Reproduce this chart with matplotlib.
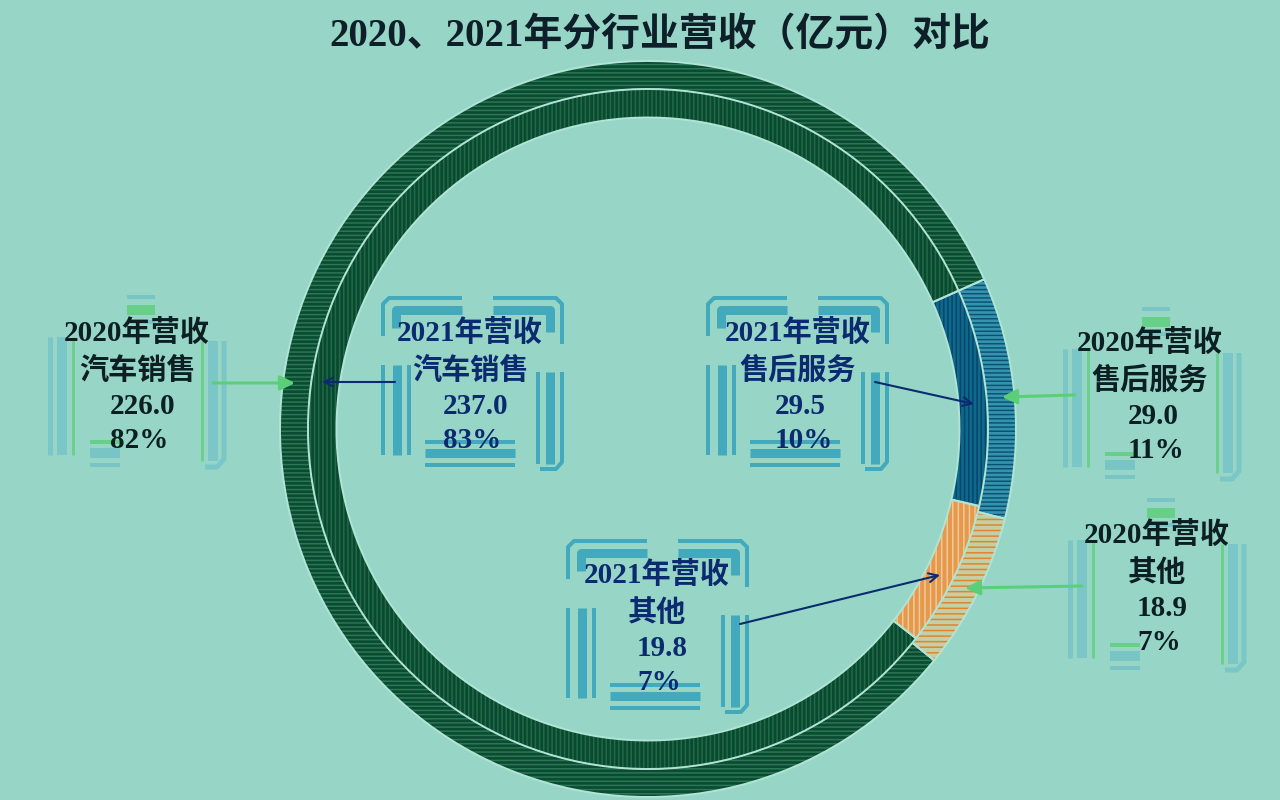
import matplotlib
matplotlib.use('Agg')
import matplotlib.pyplot as plt

plt.rcParams['hatch.linewidth'] = 1.1

# ---------------- data ----------------
categories = ['汽车销售', '售后服务', '其他']
revenue_2020 = [226.0, 29.0, 18.9]
revenue_2021 = [237.0, 29.5, 19.8]
pct_2020 = [82, 11, 7]
pct_2021 = [83, 10, 7]
title = '2020、2021年分行业营收（亿元）对比'

# ---------------- layout ----------------
W, H = 1280, 800
BG = '#97d6c6'
FONT = ['Liberation Serif', 'Noto Sans CJK SC', 'DejaVu Sans']

fig = plt.figure(figsize=(12.8, 8), dpi=100, facecolor=BG)
ax = fig.add_axes([0, 0, 1, 1])
ax.set_facecolor(BG)


def Y(y):
    return H - y


CX, CY = 648, 429
R_OUT, R_MID = 368, 340
RING_W = 28.5
START = 24  # angle (deg) where 售后服务 begins, going clockwise


def ring(values, radius, faces, hatches, hatch_colors):
    total = sum(values)
    start = START + 360.0 * values[0] / total
    common = dict(center=(CX, Y(CY)), radius=radius, startangle=start,
                  counterclock=False)
    ax.pie(values, colors=faces, wedgeprops=dict(width=RING_W, linewidth=0), **common)
    hw, _ = ax.pie(values, colors=['none'] * len(values),
                   wedgeprops=dict(width=RING_W, linewidth=0), **common)
    for w, h, c in zip(hw, hatches, hatch_colors):
        w.set_facecolor('none')
        w.set_edgecolor(c)
        w.set_hatch(h)
        w.set_linewidth(0)
    ax.pie(values, colors=['none'] * len(values),
           wedgeprops=dict(width=RING_W, edgecolor='#b2e4d6', linewidth=1.4), **common)


# outer ring = 2020, inner ring = 2021
ring(revenue_2020, R_OUT,
     ['#0b4b32', '#3494ae', '#c4cfa4'], ['----', '----', '---'],
     ['#2a7655', '#0c5274', '#e0852f'])
ring(revenue_2021, R_MID,
     ['#0a4930', '#0e6a8c', '#e4994c'], ['||||', '||||', '|||'],
     ['#1f6a48', '#07456a', '#f2c898'])


# ---------------- decorative frames ----------------
def seg(points, w, color, alpha=1.0):
    xs = [p[0] for p in points]
    ys = [Y(p[1]) for p in points]
    ax.plot(xs, ys, color=color, lw=w * 0.72, alpha=alpha, solid_capstyle='butt',
            solid_joinstyle='round', zorder=2)


def frame2021(L, T):
    c = '#43aabd'
    seg([(L + 3, T + 40), (L + 3, T + 8), (L + 9, T + 2), (L + 82, T + 2)], 4, c)
    seg([(L + 16, T + 32), (L + 16, T + 14), (L + 82, T + 14)], 9, c)
    seg([(L + 113, T + 2), (L + 176, T + 2), (L + 182, T + 8), (L + 182, T + 48)], 4, c)
    seg([(L + 113, T + 14), (L + 170, T + 14), (L + 170, T + 36)], 9, c)
    for x, w in [(3, 4), (17, 9), (29, 4)]:
        seg([(L + x, T + 69), (L + x, T + 159)], w, c)
    for x, w in [(158, 4), (170, 9)]:
        seg([(L + x, T + 76), (L + x, T + 168)], w, c)
    seg([(L + 182, T + 76), (L + 182, T + 166), (L + 176, T + 173), (L + 160, T + 173)], 4, c)
    for y, w in [(146, 4), (157, 9), (169, 4)]:
        seg([(L + 45, T + y), (L + 135, T + y)], w, c)


def frame2020(L, T):
    t = '#76c4c6'
    g = '#62cf82'
    for y, w, c in [(4, 4, t), (17, 10, g), (29, 4, t)]:
        seg([(L + 82, T + y), (L + 110, T + y)], w, c, 0.9)
    for x, w, c in [(5, 5, t), (17, 10, t), (28, 3, g)]:
        seg([(L + x, T + 44), (L + x, T + 162)], w, c, 0.85)
    for x, w, c in [(157, 3, g), (168, 10, t)]:
        seg([(L + x, T + 48), (L + x, T + 168)], w, c, 0.85)
    seg([(L + 179, T + 48), (L + 179, T + 166), (L + 172, T + 174), (L + 160, T + 174)], 5, t, 0.85)
    for y, w, c in [(149, 4, g), (160, 10, t), (172, 4, t)]:
        seg([(L + 45, T + y), (L + 75, T + y)], w, c, 0.9)


frames_2020 = [(45, 293), (1060, 305), (1065, 496)]
frames_2021 = [(380, 296), (705, 296), (565, 539)]
for L, T in frames_2020:
    frame2020(L, T)
for L, T in frames_2021:
    frame2021(L, T)

# ---------------- arrows ----------------
GREEN = '#5bcf78'
NAVY = '#0b2a70'
arrows_2020 = [((213, 383), (295, 383)), ((1075, 395), (1002, 397)), ((1082, 586), (965, 588))]
arrows_2021 = [((395, 382), (322, 382)), ((875, 382), (974, 404)), ((740, 624), (940, 575))]
for (s, e) in arrows_2020:
    ax.annotate('', xy=(e[0], Y(e[1])), xytext=(s[0], Y(s[1])), zorder=4,
                arrowprops=dict(arrowstyle='-|>', color=GREEN, lw=2.2, mutation_scale=22,
                                shrinkA=0, shrinkB=0))
for (s, e) in arrows_2021:
    ax.annotate('', xy=(e[0], Y(e[1])), xytext=(s[0], Y(s[1])), zorder=4,
                arrowprops=dict(arrowstyle='->', color=NAVY, lw=1.5, mutation_scale=16,
                                shrinkA=0, shrinkB=0))

# ---------------- labels ----------------
pos_2020 = [(137, 333, 110), (1150, 343, 1128), (1157, 535, 1137)]
pos_2021 = [(470, 333, 443), (798, 333, 775), (657, 575, 637)]
OFF = [0, 38, 74, 107]
FS = 21


def label(year, cat, val, pct, pos, color):
    cx, y0, lx = pos
    kw = dict(fontsize=FS, fontweight='bold', color=color, family=FONT, va='center', zorder=5)
    ax.text(cx, Y(y0 + OFF[0]), f'{year}年营收', ha='center', **kw)
    ax.text(cx, Y(y0 + OFF[1]), cat, ha='center', **kw)
    ax.text(lx, Y(y0 + OFF[2]), f'{val:.1f}', ha='left', **kw)
    ax.text(lx, Y(y0 + OFF[3]), f'{pct}%', ha='left', **kw)


for i, cat in enumerate(categories):
    label('2020', cat, revenue_2020[i], pct_2020[i], pos_2020[i], '#0c1f22')
    label('2021', cat, revenue_2021[i], pct_2021[i], pos_2021[i], NAVY)

ax.text(660, Y(36), title, fontsize=28, fontweight='bold', color='#0e1f29',
        family=FONT, ha='center', va='center', zorder=5)

ax.set_xlim(0, W)
ax.set_ylim(0, H)
ax.set_aspect('auto')
ax.axis('off')

fig.savefig('out.png', dpi=100, facecolor=BG)
